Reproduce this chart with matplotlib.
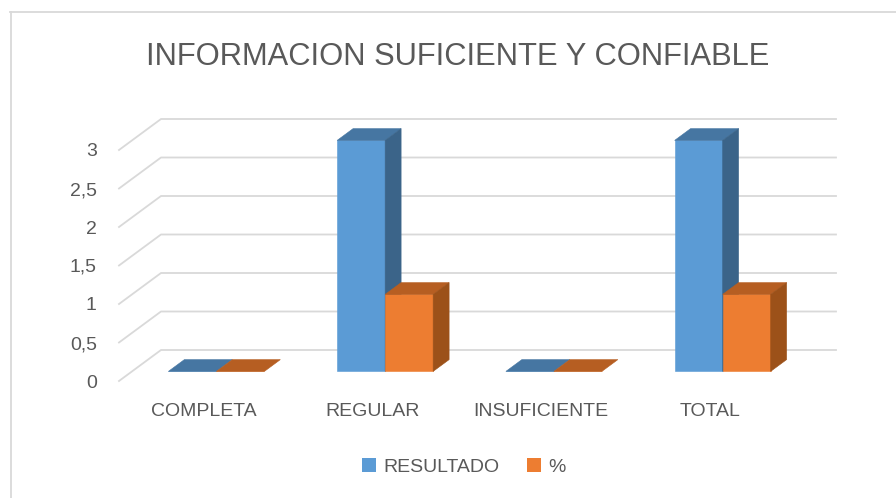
import numpy as np
import matplotlib
matplotlib.use("Agg")
import matplotlib.pyplot as plt
from matplotlib.patches import Polygon, Patch
from matplotlib.lines import Line2D

categories = ["COMPLETA", "REGULAR", "INSUFICIENTE", "TOTAL"]
resultado = [0, 3, 0, 3]
porcentaje = [0, 1, 0, 1]
series_names = ["RESULTADO", "%"]
y_ticks = [0, 0.5, 1, 1.5, 2, 2.5, 3]
title = "INFORMACION SUFICIENTE Y CONFIABLE"

plt.rcParams['font.family'] = ['Liberation Sans', 'DejaVu Sans']
TEXT = '#595959'
GRID = '#d9d9d9'

# colours: front, top, side
BLUE = ('#5b9bd5', '#4676a2', '#3b6489')
ORANGE = ('#ed7d31', '#b65e22', '#9c5119')

W, H = 896, 498
fig = plt.figure(figsize=(W / 100, H / 100), dpi=100)

# front plane of the 3D box, in pixels
left_px, right_px, zero_px, top_px = 119, 794, 381, 150
ax = fig.add_axes([left_px / W, (H - zero_px) / H,
                   (right_px - left_px) / W, (zero_px - top_px) / H])
ax.set_xlim(-0.5, len(categories) - 0.5)
ax.set_ylim(0, 3)

# depth of the floor in data units (42px right, 31px up)
px_x = (right_px - left_px) / len(categories)
px_y = (zero_px - top_px) / 3
DX, DY = 42 / px_x, 31 / px_y

# 3D gridlines: diagonal on the side wall, horizontal on the back wall
x0, x1 = ax.get_xlim()
for v in y_ticks:
    ax.add_line(Line2D([x0, x0 + DX, x1 + DX], [v, v + DY, v + DY],
                       color=GRID, lw=1.3, clip_on=False, zorder=1))

# bars sit between 31% and 69% of the depth
d_front, d_back = 0.31, 0.69
bar_w = 48 / px_x
ox, oy = (d_back - d_front) * DX, (d_back - d_front) * DY


def draw_bar(xl, h, cols):
    xl = xl + d_front * DX
    yb = d_front * DY
    xr = xl + bar_w
    front, top, side = cols
    kw = dict(clip_on=False, zorder=3, lw=0.4)
    ax.add_patch(Polygon([(xl, yb), (xr, yb), (xr, yb + h), (xl, yb + h)],
                         fc=front, ec=front, **kw))
    ax.add_patch(Polygon([(xl, yb + h), (xr, yb + h), (xr + ox, yb + h + oy),
                          (xl + ox, yb + h + oy)], fc=top, ec=top, **kw))
    if h > 0:
        ax.add_patch(Polygon([(xr, yb), (xr + ox, yb + oy), (xr + ox, yb + h + oy),
                              (xr, yb + h)], fc=side, ec=side, **kw))


for i in range(len(categories)):
    draw_bar(i - bar_w, resultado[i], BLUE)
    draw_bar(i, porcentaje[i], ORANGE)

ax.set_yticks(y_ticks)
ax.set_yticklabels([f"{v:g}".replace('.', ',') for v in y_ticks])
ax.set_xticks(range(len(categories)))
ax.set_xticklabels(categories)
ax.tick_params(axis='y', length=0, pad=16, labelsize=14, labelcolor=TEXT)
ax.tick_params(axis='x', length=0, pad=16, labelsize=14, labelcolor=TEXT)
for s in ax.spines.values():
    s.set_visible(False)
ax.patch.set_alpha(0)

fig.text(458 / W, 1 - 57 / H, title, ha='center', va='center',
         fontsize=22.2, color=TEXT)

handles = [Patch(fc=BLUE[0], ec='none'), Patch(fc=ORANGE[0], ec='none')]
fig.legend(handles, series_names, loc='center', bbox_to_anchor=(464 / W, 1 - 467 / H),
           ncol=2, frameon=False, fontsize=14, labelcolor=TEXT,
           handlelength=0.7, handleheight=0.7, handletextpad=0.4,
           columnspacing=1.4)

# chart border (only top and left edges are visible)
fig.add_artist(Line2D([10.5 / W, 10.5 / W], [0, 1 - 12 / H], color=GRID, lw=1.3))
fig.add_artist(Line2D([10 / W, 1], [1 - 12.5 / H, 1 - 12.5 / H], color=GRID, lw=1.3))

fig.savefig("out.png", dpi=100)
